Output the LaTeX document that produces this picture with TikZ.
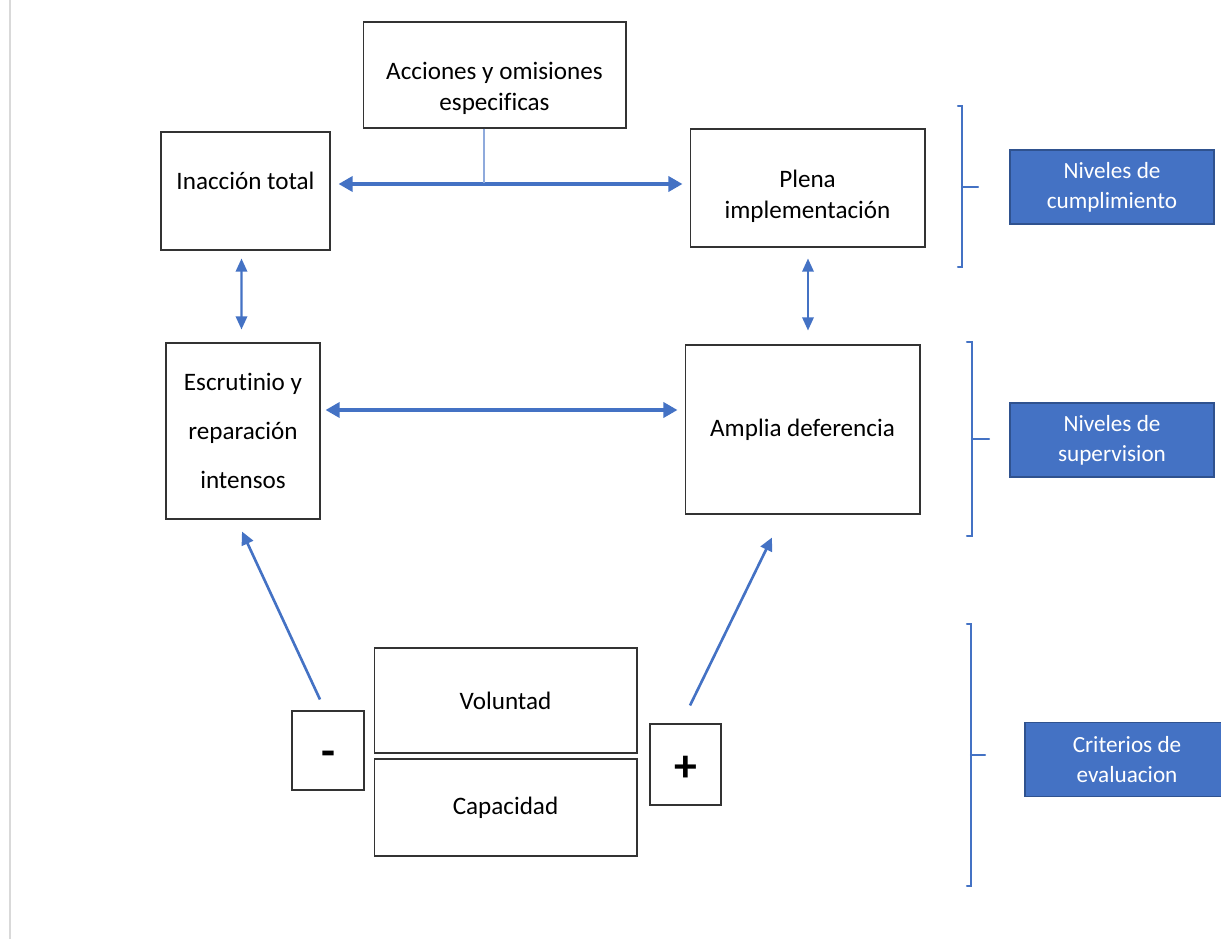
\documentclass[tikz,border=0pt]{standalone}
\usepackage{fontspec}
\setmainfont{Carlito}[Ligatures=NoCommon]
\usepackage{xcolor}
\usepackage{tikz}
\usetikzlibrary{arrows.meta}

\definecolor{azul}{HTML}{4472C4}
\definecolor{azulborde}{HTML}{2F528F}
\definecolor{azulclaro}{HTML}{8FAADC}
\newcommand{\fs}{\fontsize{14.3}{17.8}\selectfont}
\newcommand{\fsniv}{\fontsize{13.2}{17}\selectfont}

\begin{document}
\begin{tikzpicture}[x=0.02cm, y=-0.02cm,
  box/.style={draw=black!80, line width=0.6pt, fill=white, align=center, font=\fs},
  lbl/.style={align=center, font=\fs},
  nivel/.style={draw=azulborde, line width=0.9pt, fill=azul, text=white, align=center, font=\fsniv, minimum width=4.08cm, minimum height=1.48cm},
  signo/.style={draw=black!80, line width=0.6pt, fill=white, text height=0pt, text depth=0pt, font=\fontsize{26}{26}\selectfont\bfseries},
  dbl/.style={{Triangle[length=8pt,width=8.5pt]}-{Triangle[length=8pt,width=8.5pt]}, line width=2.3pt, azul},
  dblsmall/.style={{Triangle[length=7.5pt,width=6.5pt]}-{Triangle[length=7.5pt,width=6.5pt]}, line width=1.2pt, azul},
  flecha/.style={-{Triangle[length=7.5pt,width=7pt]}, line width=1.5pt, azul},
  llave/.style={azul, line width=1.2pt, line cap=round}]
\useasboundingbox (0,0) rectangle (1221,939);
\draw [line width=1.7pt, black!15] (10,0) -- (10,939);

% cajas
\node [box, minimum width=5.26cm, minimum height=2.12cm,
  label={[lbl, yshift=-0.27cm]center:{Acciones y omisiones\\especificas}}] (acciones) at (494.5,75) {};
\node [box, minimum width=3.38cm, minimum height=2.36cm,
  label={[lbl, yshift=0.2cm]center:{Inacción total}}] (inaccion) at (245.5,191) {};
\node [box, minimum width=4.70cm, minimum height=2.36cm,
  label={[lbl, yshift=-0.16cm]center:{Plena\\implementación}}] (plena) at (807.5,188) {};
\node [box, minimum width=3.08cm, minimum height=3.52cm, font=\fontsize{14.3}{28}\selectfont] (escrutinio) at (243,431) {Escrutinio y\\reparación\\intensos};
\node [box, minimum width=4.70cm, minimum height=3.38cm] (amplia) at (802.5,429.5) {Amplia deferencia};
\node [box, minimum width=5.26cm, minimum height=2.10cm] (voluntad) at (505.5,700.5) {Voluntad};
\node [box, minimum width=5.26cm, minimum height=1.94cm] (capacidad) at (505.5,807.5) {Capacidad};
\node [signo, minimum width=1.44cm, minimum height=1.58cm] (menos) at (328,750.5) {\raisebox{-9pt}{-}};
\node [signo, minimum width=1.42cm, minimum height=1.62cm] (mas) at (685.5,764.5) {\raisebox{-9.5pt}{+}};

\node [nivel] (cumplimiento) at (1112,187) {Niveles de\\cumplimiento};
\node [nivel] (supervision) at (1112,440) {Niveles de\\supervision};
\node [nivel] (criterios) at (1127,759.5) {Criterios de\\evaluacion};

% flechas
\draw [dbl] ([shift={(8,-7)}]inaccion.east) -- ([shift={(-7,-4)}]plena.west);
\draw [azulclaro, line width=0.6pt] ([xshift=-0.21cm]acciones.south) -- ++(0,54);
\draw [dbl] ([shift={(5,-21)}]escrutinio.east) -- ([shift={(-7,-19.5)}]amplia.west);
\draw [dblsmall] ([shift={(-4,8)}]inaccion.south) -- ([shift={(-1.5,-13)}]escrutinio.north);
\draw [dblsmall] ([shift={(0.5,11)}]plena.south) -- ([shift={(5.5,-14)}]amplia.north);
\draw [flecha] ([shift={(-8,-11)}]menos.north) -- ([shift={(-1,12)}]escrutinio.south);
\draw [flecha] ([shift={(4.5,-18)}]mas.north) -- ([shift={(-30.5,23)}]amplia.south);

% llaves
\draw [llave] (958,106) -- (962,106) -- (962,267) -- (958,267) (962,187) -- (978,187);
\draw [llave] (967,342) -- (972,342) -- (972,536) -- (967,536) (972,439) -- (989,439);
\draw [llave] (967,624) -- (971,624) -- (971,886) -- (967,886) (971,755) -- (985,755);
\end{tikzpicture}
\end{document}
